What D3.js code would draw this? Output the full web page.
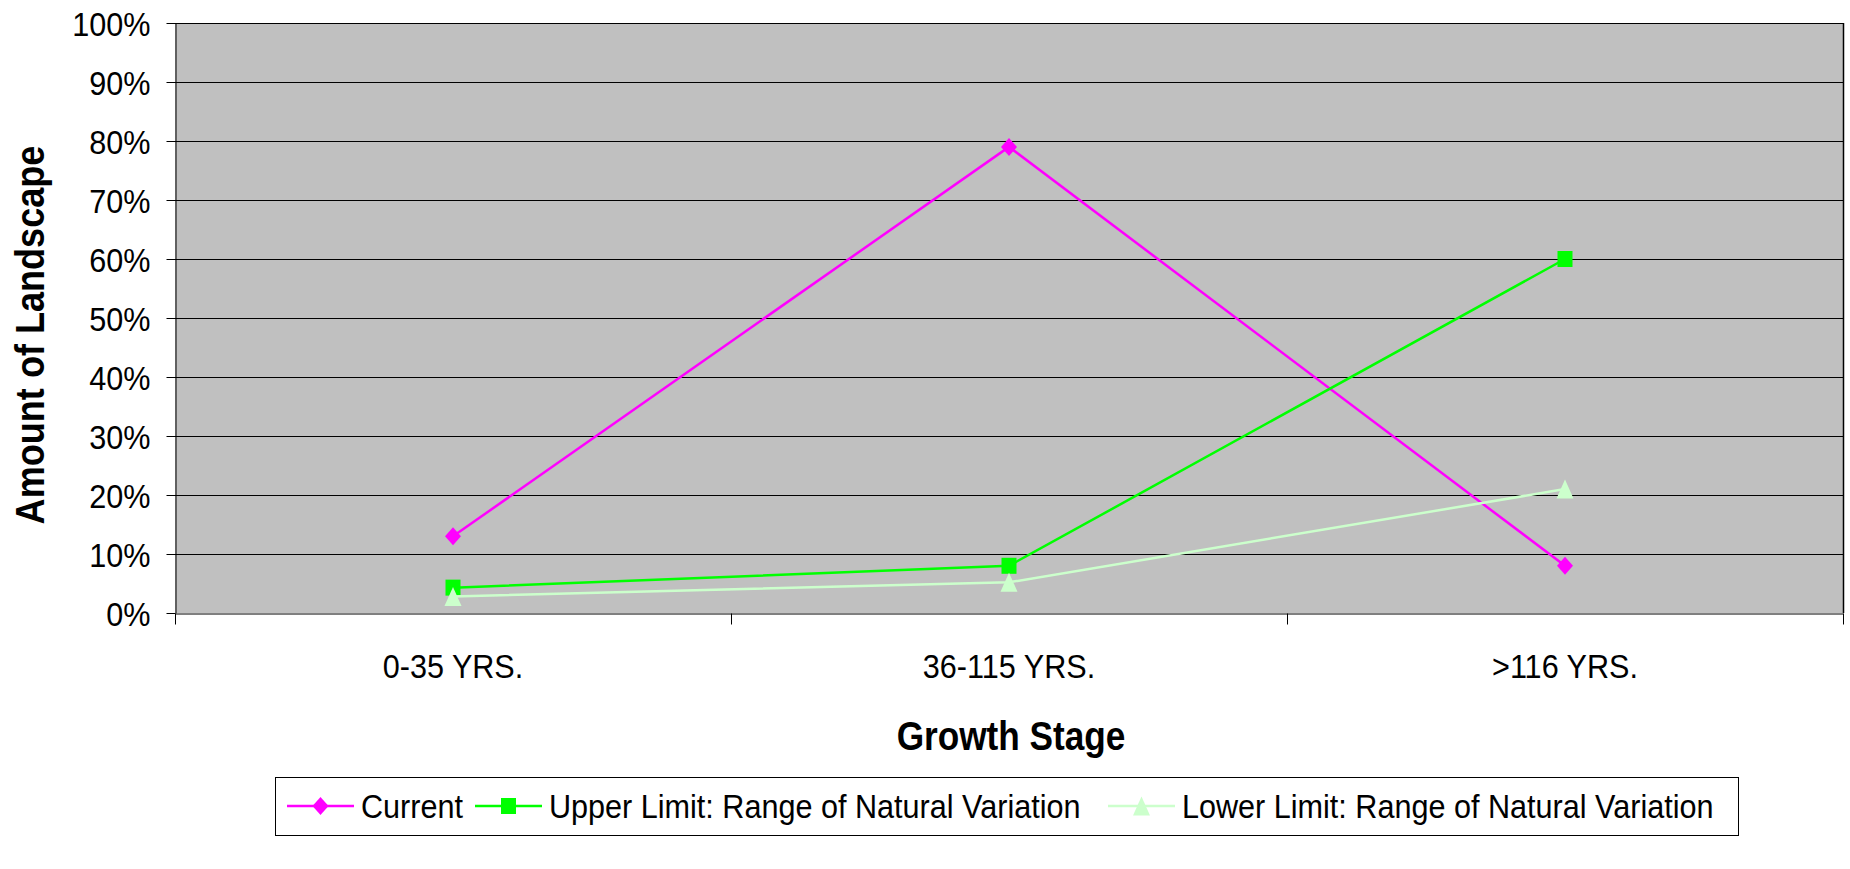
<!DOCTYPE html>
<html>
<head>
<meta charset="utf-8">
<script src="https://cdn.jsdelivr.net/npm/d3@7"></script>
<style>
  html, body { margin: 0; padding: 0; background: #fff; }
  svg { display: block; }
  text { font-family: "Liberation Sans", Arial, sans-serif; fill: #000; }
</style>
</head>
<body>
<svg id="chart" width="1850" height="869"></svg>
<script>
// ---- data ----
const categories = ["0-35 YRS.", "36-115 YRS.", ">116 YRS."];
const currentValues = [13, 79, 8];
const upperValues = [4.3, 8, 60];
const lowerValues = [2.8, 5.2, 21];
const yTickValues = [0, 10, 20, 30, 40, 50, 60, 70, 80, 90, 100];
const seriesNames = ["Current", "Upper Limit: Range of Natural Variation", "Lower Limit: Range of Natural Variation"];
const xTitle = "Growth Stage";
const yTitle = "Amount of Landscape";

// ---- layout ----
const W = 1850, H = 869;
const plot = { left: 175, right: 1843, top: 23, bottom: 613 };
const SX = 0.9;      // horizontal condensation of regular text
const SXB = 0.88;    // condensation of bold titles

const svg = d3.select("#chart");

const x = d3.scaleBand().domain(categories).range([plot.left, plot.right]);
const xc = c => x(c) + x.bandwidth() / 2;
const y = d3.scaleLinear().domain([0, 100]).range([plot.bottom, plot.top]);

// plot background
svg.append("rect")
  .attr("x", plot.left).attr("y", plot.top)
  .attr("width", plot.right - plot.left).attr("height", plot.bottom - plot.top)
  .attr("fill", "#C0C0C0");

// gridlines
svg.append("g").selectAll("line")
  .data(yTickValues.filter(v => v > 0))
  .join("line")
  .attr("x1", plot.left).attr("x2", plot.right)
  .attr("y1", d => Math.round(y(d)) + 0.5).attr("y2", d => Math.round(y(d)) + 0.5)
  .attr("stroke", "#000").attr("stroke-width", 1);

// right border
svg.append("line")
  .attr("x1", plot.right + 0.5).attr("x2", plot.right + 0.5)
  .attr("y1", plot.top).attr("y2", plot.bottom)
  .attr("stroke", "#000").attr("stroke-width", 1.5);

// y axis
const yAxis = svg.append("g")
  .attr("transform", `translate(${plot.left + 0.5},0)`)
  .call(d3.axisLeft(y).tickValues(yTickValues).tickSize(9).tickSizeOuter(0).tickFormat(d => d + "%"));
yAxis.select(".domain").attr("stroke", "#000").attr("stroke-width", 1);
yAxis.selectAll(".tick line").attr("stroke", "#000");
yAxis.selectAll(".tick text")
  .attr("x", null).attr("dy", null)
  .attr("text-anchor", "end")
  .attr("font-size", 34)
  .attr("font-family", '"Liberation Sans", Arial, sans-serif')
  .attr("fill", "#000")
  .attr("transform", `translate(-25,12) scale(${SX},1)`);

// x axis: boundary ticks
const xb = d3.scaleLinear().domain([0, categories.length]).range([plot.left, plot.right]);
const xAxisTicks = svg.append("g")
  .attr("transform", `translate(0,${plot.bottom + 0.5})`)
  .call(d3.axisBottom(xb).tickValues(d3.range(categories.length + 1)).tickSize(11).tickSizeOuter(0).tickFormat(""));
xAxisTicks.select(".domain").attr("stroke", "#000");
xAxisTicks.selectAll(".tick line").attr("stroke", "#000");

// x axis labels
const xAxisLabels = svg.append("g")
  .attr("transform", `translate(0,${plot.bottom})`)
  .call(d3.axisBottom(x).tickSize(0).tickSizeOuter(0));
xAxisLabels.select(".domain").remove();
xAxisLabels.selectAll(".tick text")
  .attr("y", null).attr("dy", null)
  .attr("text-anchor", "middle")
  .attr("font-size", 34)
  .attr("font-family", '"Liberation Sans", Arial, sans-serif')
  .attr("fill", "#000")
  .attr("transform", `translate(0,65) scale(${SX},1)`);

// axis titles
svg.append("text")
  .attr("transform", `translate(${(plot.left + plot.right) / 2 + 2},750) scale(${SXB},1)`)
  .attr("text-anchor", "middle")
  .attr("font-size", 40).attr("font-weight", "bold")
  .text(xTitle);

svg.append("text")
  .attr("transform", `translate(44,335) rotate(-90) scale(${SXB},1)`)
  .attr("text-anchor", "middle")
  .attr("font-size", 41).attr("font-weight", "bold")
  .text(yTitle);

// marker shapes
function markerPath(kind) {
  if (kind === "diamond") return "M0,-9L8,0L0,9L-8,0Z";
  if (kind === "square") return "M-7.5,-8H7.5V8H-7.5Z";
  return "M0,-9.5L8.5,9.5L-8.5,9.5Z";
}

const series = [
  { name: seriesNames[0], values: currentValues, color: "#FF00FF", marker: "diamond" },
  { name: seriesNames[1], values: upperValues, color: "#00FF00", marker: "square" },
  { name: seriesNames[2], values: lowerValues, color: "#CCFFCC", marker: "triangle" }
];

const line = d3.line().x(d => xc(d.c)).y(d => y(d.v));

series.forEach(s => {
  const pts = categories.map((c, i) => ({ c, v: s.values[i] }));
  const g = svg.append("g");
  g.append("path")
    .attr("d", line(pts))
    .attr("fill", "none")
    .attr("stroke", s.color)
    .attr("stroke-width", 2.5);
  g.selectAll("path.m")
    .data(pts)
    .join("path")
    .attr("class", "m")
    .attr("d", markerPath(s.marker))
    .attr("transform", d => `translate(${xc(d.c)},${y(d.v)})`)
    .attr("fill", s.color);
});

// legend
const legend = { left: 275, right: 1738, top: 777, bottom: 835 };
svg.append("rect")
  .attr("x", legend.left + 0.5).attr("y", legend.top + 0.5)
  .attr("width", legend.right - legend.left).attr("height", legend.bottom - legend.top)
  .attr("fill", "#fff").attr("stroke", "#000").attr("stroke-width", 1);

const legendItemX = [287, 475, 1108];
const legendCy = (legend.top + legend.bottom) / 2;
series.forEach((s, i) => {
  const lx = legendItemX[i];
  const g = svg.append("g");
  g.append("line")
    .attr("x1", lx).attr("x2", lx + 67)
    .attr("y1", legendCy).attr("y2", legendCy)
    .attr("stroke", s.color).attr("stroke-width", 2.5);
  g.append("path")
    .attr("d", markerPath(s.marker))
    .attr("transform", `translate(${lx + 33.5},${legendCy})`)
    .attr("fill", s.color);
  g.append("text")
    .attr("transform", `translate(${lx + 74},${legendCy + 12}) scale(${SX},1)`)
    .attr("font-size", 34)
    .text(s.name);
});
</script>
</body>
</html>
